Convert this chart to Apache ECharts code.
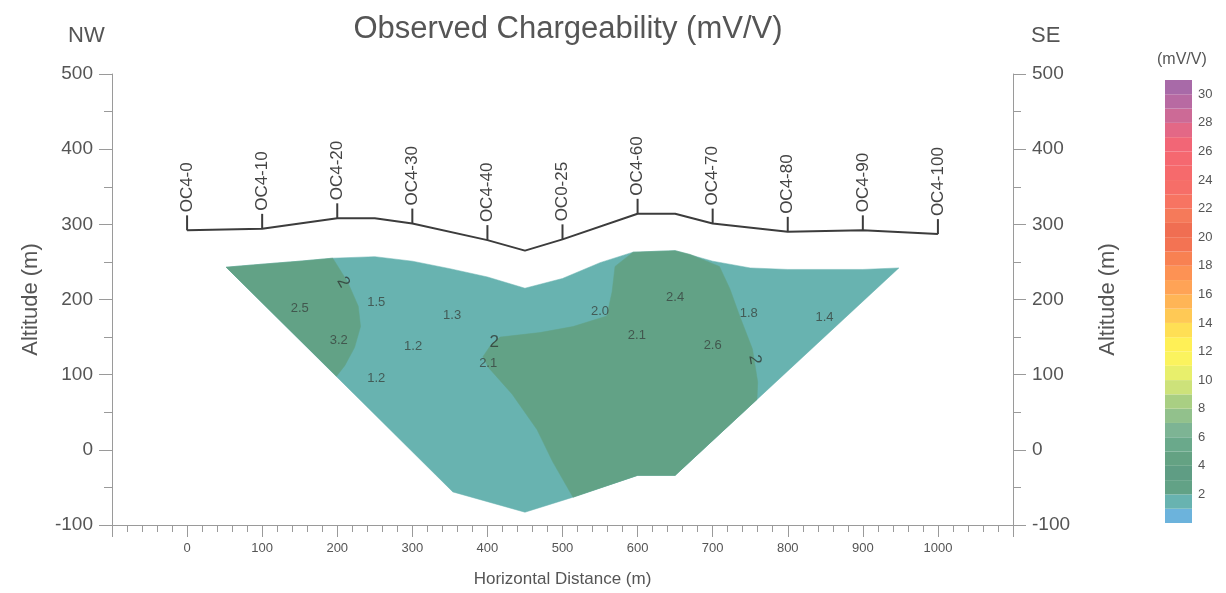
<!DOCTYPE html>
<html>
<head>
<meta charset="utf-8">
<title>Observed Chargeability (mV/V)</title>
<script src="https://cdn.jsdelivr.net/npm/echarts@6/dist/echarts.min.js"></script>
<style>
  html, body { margin: 0; padding: 0; background: #ffffff; }
  #chart { width: 1226px; height: 593px; }
</style>
</head>
<body>
<div id="chart"></div>
<script>
// ---- Survey stations along the line (distance m, ground altitude m) ----
const stationNames = ['OC4-0', 'OC4-10', 'OC4-20', 'OC4-30', 'OC4-40', 'OC0-25',
                      'OC4-60', 'OC4-70', 'OC4-80', 'OC4-90', 'OC4-100'];
const stationX = [0, 100, 200, 300, 400, 500, 600, 700, 800, 900, 1000];
const stationZ = [292, 294, 308, 301, 279, 280, 314, 301, 290, 292, 287];

// ---- Ground surface profile ----
const topoX = [0, 100, 200, 250, 300, 400, 450, 500, 600, 650, 700, 800, 900, 1000];
const topoZ = [292, 294, 308, 308, 301, 279, 265, 280, 314, 314, 301, 290, 292, 287];

// ---- Inverted section outline (distance, altitude) ----
const sectionOutline = [
  [52, 243], [100, 247], [150, 251], [194, 255], [250, 257], [300, 251], [350, 241],
  [400, 230], [450, 215], [500, 228], [550, 249], [594, 263], [650, 265], [700, 251],
  [750, 242], [800, 240], [900, 240], [948, 242],
  [650, -34], [600, -34], [514, -63], [450, -83], [354, -56]
];

// ---- Zones above the 2 mV/V contour ----
const westHighZone = [
  [52, 243], [100, 247], [150, 251], [194, 255], [214, 223], [228, 191], [231, 164],
  [223, 136], [210, 112], [199, 98]
];
const centralHighZone = [
  [594, 263], [650, 265], [670, 260], [709, 244], [723, 214], [736, 178], [753, 134],
  [760, 90], [759, 67], [650, -34], [600, -34], [514, -63], [487, -16], [466, 27],
  [433, 74], [401, 110], [394, 124], [405, 140], [417, 150], [470, 156], [514, 164],
  [559, 178], [566, 210], [570, 244]
];

// ---- Chargeability values posted in the section ----
const valueX = [150, 252, 353, 202, 301, 401, 252, 550, 650, 599, 748, 849, 700];
const valueZ = [188, 196, 179, 146, 138, 115, 95, 184, 203, 152, 182, 176, 139];
const valueText = ['2.5', '1.5', '1.3', '3.2', '1.2', '2.1', '1.2', '2.0', '2.4', '2.1', '1.8', '1.4', '2.6'];

// ---- Contour labels (value, position, angle in degrees) ----
const contourX = [208, 409, 756];
const contourZ = [223, 143, 120];
const contourText = ['2', '2', '2'];
const contourAngle = [-60, 0, -80];

// ---- Colour scale (mV/V), one band per unit from 0 to 31 ----
const scaleMin = 0;
const scaleMax = 31;
const scaleColors = [
  '#6cb3dc', '#68b3b0', '#62a286', '#5f9d84', '#64a283', '#6aa98b', '#7db494', '#92c18c',
  '#a9cf83', '#cde27a', '#e8ef6c', '#fbf35e', '#fff056', '#ffdf55', '#ffc955', '#ffb556',
  '#ffa356', '#fd9254', '#f88152', '#f37353', '#f06e52', '#f57a5a', '#f77462', '#f66e68',
  '#f66a6c', '#f56870', '#f26676', '#e36886', '#cc6a96', '#b86aa2', '#a86aa8'
];

const FONT = '"Liberation Sans", Arial, sans-serif';
const TEXT = '#555555';
const AXIS = '#9a9a9a';

const regions = [sectionOutline, westHighZone, centralHighZone];
const regionColors = [scaleColors[1], scaleColors[2], scaleColors[2]];

const chart = echarts.init(document.getElementById('chart'), null, { renderer: 'canvas' });

const yAxisCommon = {
  type: 'value', gridIndex: 0, min: -100, max: 500, interval: 100,
  axisLine: { show: true, onZero: false, lineStyle: { color: AXIS, width: 1 } },
  axisTick: { show: true, length: 13, lineStyle: { color: AXIS } },
  minorTick: { show: true, splitNumber: 2, length: 8, lineStyle: { color: AXIS } },
  splitLine: { show: false },
  axisLabel: { fontSize: 19, color: TEXT, fontFamily: FONT, margin: 19 },
  name: 'Altitude (m)', nameLocation: 'middle', nameRotate: 90,
  nameTextStyle: { fontSize: 22, color: TEXT, fontFamily: FONT }
};

const option = {
  backgroundColor: '#ffffff',
  animation: false,
  textStyle: { fontFamily: FONT },
  title: {
    text: 'Observed Chargeability (mV/V)',
    left: 563, top: 9, textAlign: 'center',
    textStyle: { fontSize: 31, fontWeight: 'normal', color: TEXT, fontFamily: FONT }
  },
  graphic: [
    { type: 'text', left: 68, top: 25, style: { text: 'NW', fontSize: 22, fill: TEXT, fontFamily: FONT } },
    { type: 'text', left: 1031, top: 25, style: { text: 'SE', fontSize: 22, fill: TEXT, fontFamily: FONT } },
    { type: 'text', left: 1157, top: 52, style: { text: '(mV/V)', fontSize: 16, fill: TEXT, fontFamily: FONT } }
  ],
  grid: [
    { left: 112, right: 213, top: 74, bottom: 68 },
    { left: 1165, width: 27, top: 80, height: 443 }
  ],
  xAxis: [
    {
      type: 'value', gridIndex: 0, min: -100, max: 1100, interval: 100,
      axisLine: { show: true, onZero: false, lineStyle: { color: AXIS, width: 1 } },
      axisTick: { show: true, length: 12, lineStyle: { color: AXIS } },
      minorTick: { show: true, splitNumber: 5, length: 7, lineStyle: { color: AXIS } },
      splitLine: { show: false },
      axisLabel: {
        fontSize: 13, color: TEXT, fontFamily: FONT, margin: 17,
        formatter: v => (v < 0 || v > 1000) ? '' : String(v)
      },
      name: 'Horizontal Distance (m)', nameLocation: 'middle', nameGap: 46,
      nameTextStyle: { fontSize: 17, color: TEXT, fontFamily: FONT }
    },
    { type: 'value', gridIndex: 1, min: 0, max: 1, show: false }
  ],
  yAxis: [
    Object.assign({}, yAxisCommon, { position: 'left', nameGap: 70 }),
    Object.assign({}, yAxisCommon, { position: 'right', nameGap: 84 }),
    {
      type: 'value', gridIndex: 1, position: 'right', min: scaleMin, max: scaleMax, interval: 2,
      axisLine: { show: false }, axisTick: { show: false }, splitLine: { show: false },
      axisLabel: {
        fontSize: 13, color: TEXT, fontFamily: FONT, margin: 6,
        formatter: v => (v >= 2 && v <= 30 && v % 2 === 0) ? String(v) : ''
      }
    }
  ],
  series: [
    {
      // section polygons
      type: 'custom', xAxisIndex: 0, yAxisIndex: 0, z: 2,
      data: regions.map((r, i) => [i]),
      renderItem: (params, api) => {
        const poly = regions[params.dataIndex];
        return {
          type: 'polygon',
          shape: { points: poly.map(p => api.coord(p)) },
          style: { fill: regionColors[params.dataIndex], stroke: regionColors[params.dataIndex], lineWidth: 0.5 }
        };
      }
    },
    {
      // posted values
      type: 'scatter', xAxisIndex: 0, yAxisIndex: 0, z: 4,
      symbolSize: 0, silent: true,
      data: valueX.map((x, i) => ({ value: [x, valueZ[i]], name: valueText[i] })),
      label: {
        show: true, position: 'inside', formatter: p => p.name,
        fontSize: 13, color: '#3a4540', fontFamily: FONT
      }
    },
    {
      // contour labels
      type: 'scatter', xAxisIndex: 0, yAxisIndex: 0, z: 4,
      symbolSize: 0, silent: true,
      data: contourX.map((x, i) => ({
        value: [x, contourZ[i]], name: contourText[i],
        label: { rotate: contourAngle[i] }
      })),
      label: {
        show: true, position: 'inside', formatter: p => p.name,
        fontSize: 17, color: '#2f3a35', fontFamily: FONT
      }
    },
    {
      // ground surface
      type: 'line', xAxisIndex: 0, yAxisIndex: 0, z: 5,
      data: topoX.map((x, i) => [x, topoZ[i]]),
      symbol: 'none', silent: true,
      lineStyle: { color: '#3c3c3c', width: 2 }
    },
    {
      // station ticks and names
      type: 'custom', xAxisIndex: 0, yAxisIndex: 0, z: 6,
      data: stationX.map((x, i) => [x, stationZ[i]]),
      renderItem: (params, api) => {
        const p = api.coord([api.value(0), api.value(1)]);
        return {
          type: 'group',
          children: [
            {
              type: 'line',
              shape: { x1: p[0], y1: p[1], x2: p[0], y2: p[1] - 15 },
              style: { stroke: '#3c3c3c', lineWidth: 2 }
            },
            {
              type: 'text', x: p[0], y: p[1] - 18, rotation: Math.PI / 2,
              style: {
                text: stationNames[params.dataIndex], fontSize: 17, fontFamily: FONT,
                fill: '#444444', align: 'left', verticalAlign: 'middle'
              }
            }
          ]
        };
      }
    },
    {
      // colour scale bands
      type: 'custom', xAxisIndex: 1, yAxisIndex: 2, z: 2,
      data: scaleColors.map((c, i) => [i, i + 1]),
      renderItem: (params, api) => {
        const a = api.coord([0, api.value(0)]);
        const b = api.coord([1, api.value(1)]);
        return {
          type: 'rect',
          shape: { x: a[0], y: b[1], width: b[0] - a[0], height: a[1] - b[1] },
          style: { fill: scaleColors[params.dataIndex] }
        };
      }
    }
  ]
};

chart.setOption(option);
</script>
</body>
</html>
